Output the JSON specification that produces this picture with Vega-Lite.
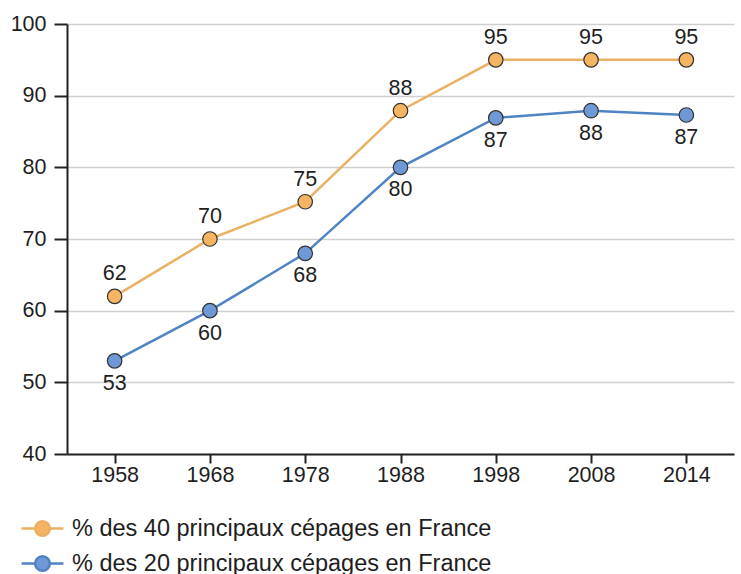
{
  "$schema": "https://vega.github.io/schema/vega-lite/v6.json",
  "width": 667,
  "height": 430,
  "autosize": "none",
  "padding": {"left": 67, "top": 24, "right": 7, "bottom": 120},
  "background": "white",
  "config": {
    "font": "Liberation Sans",
    "view": {"stroke": null}
  },
  "data": {"values": [
    {"annee": "1958", "serie": "% des 40 principaux cépages en France", "valeur": 62},
    {"annee": "1968", "serie": "% des 40 principaux cépages en France", "valeur": 70},
    {"annee": "1978", "serie": "% des 40 principaux cépages en France", "valeur": 75.2},
    {"annee": "1988", "serie": "% des 40 principaux cépages en France", "valeur": 87.9},
    {"annee": "1998", "serie": "% des 40 principaux cépages en France", "valeur": 95},
    {"annee": "2008", "serie": "% des 40 principaux cépages en France", "valeur": 95},
    {"annee": "2014", "serie": "% des 40 principaux cépages en France", "valeur": 95},
    {"annee": "1958", "serie": "% des 20 principaux cépages en France", "valeur": 53},
    {"annee": "1968", "serie": "% des 20 principaux cépages en France", "valeur": 60},
    {"annee": "1978", "serie": "% des 20 principaux cépages en France", "valeur": 68},
    {"annee": "1988", "serie": "% des 20 principaux cépages en France", "valeur": 80},
    {"annee": "1998", "serie": "% des 20 principaux cépages en France", "valeur": 86.9},
    {"annee": "2008", "serie": "% des 20 principaux cépages en France", "valeur": 87.9},
    {"annee": "2014", "serie": "% des 20 principaux cépages en France", "valeur": 87.3}
  ]},
  "encoding": {
    "x": {"field": "annee", "type": "ordinal", "title": null,
      "scale": {"paddingInner": 0, "paddingOuter": 0},
      "axis": {"labelAngle": 0, "bandPosition": 0, "tickSize": 9, "labelPadding": 1, "labelFontSize": 21.5, "labelColor": "#1e1e1e", "domainColor": "#222", "tickColor": "#222", "domainWidth": 2, "tickWidth": 2}},
    "y": {"field": "valeur", "type": "quantitative", "title": null,
      "scale": {"domain": [40, 100], "nice": false, "zero": false},
      "axis": {"values": [40, 50, 60, 70, 80, 90, 100], "tickSize": 13, "labelPadding": 8, "labelFontSize": 21.5, "labelColor": "#1e1e1e", "domainColor": "#222", "tickColor": "#222", "domainWidth": 2, "tickWidth": 2, "gridColor": "#cfcfcf", "gridWidth": 1.5}}
  },
  "layer": [
    {
      "mark": {"type": "line", "strokeWidth": 2.5},
      "encoding": {
        "color": {"field": "serie", "type": "nominal", "sort": ["% des 40 principaux cépages en France", "% des 20 principaux cépages en France"],
          "scale": {"range": ["#eab063", "#4f83c3"]},
          "legend": {"title": null, "orient": "none", "legendX": -47, "legendY": 482, "labelFontSize": 23.5, "labelColor": "#1e1e1e", "rowPadding": -7, "symbolType": "M-1,0H-0.35M0.35,0H1M0.35,0A0.35,0.35 0 1 1 -0.35,0A0.35,0.35 0 1 1 0.35,0Z", "symbolSize": 1760, "symbolStrokeWidth": 2.5, "labelOffset": 7, "labelLimit": 700,
            "encode": {"symbols": {"update": {"fill": {"scale": "fill", "field": "value"}, "fillOpacity": {"value": 1}}}}}}
      }
    },
    {
      "mark": {"type": "point", "filled": true, "size": 210, "stroke": "#333", "strokeWidth": 1.2, "opacity": 1},
      "encoding": {
        "color": {"field": "serie", "type": "nominal", "sort": ["% des 40 principaux cépages en France", "% des 20 principaux cépages en France"]},
        "fill": {"field": "serie", "type": "nominal", "sort": ["% des 40 principaux cépages en France", "% des 20 principaux cépages en France"],
          "scale": {"range": ["#f5b462", "#6e99d6"]}, "legend": null}
      }
    },
    {
      "transform": [{"filter": "datum.serie == '% des 40 principaux cépages en France'"}],
      "mark": {"type": "text", "dy": -22, "fontSize": 21.5, "color": "#1e1e1e"},
      "encoding": {"text": {"field": "valeur", "type": "quantitative", "format": ".0f"}}
    },
    {
      "transform": [{"filter": "datum.serie == '% des 20 principaux cépages en France'"}],
      "mark": {"type": "text", "dy": 23, "fontSize": 21.5, "color": "#1e1e1e"},
      "encoding": {"text": {"field": "valeur", "type": "quantitative", "format": ".0f"}}
    }
  ]
}
